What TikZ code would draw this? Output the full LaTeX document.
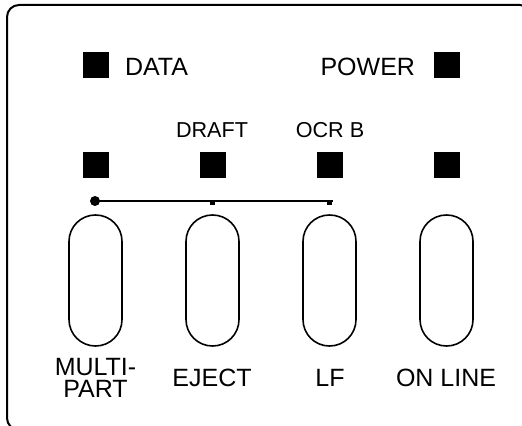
\documentclass[tikz,border=0pt]{standalone}
\usepackage{fontspec}
\setmainfont{Liberation Sans}
\begin{document}
\begin{tikzpicture}[x=0.5pt, y=-0.5pt, line width=1pt,
	led/.style={fill=black, minimum size=13pt, inner sep=0pt},
	key/.style={draw, line width=0.8pt, minimum width=26.5pt, minimum height=65.5pt, rounded corners=13.2pt, inner sep=0pt},
	lbl/.style={font=\fontsize{12.5}{11}\selectfont, inner sep=0pt, align=center},
	small/.style={font=\fontsize{10.8}{12}\selectfont, inner sep=0pt},
	tick/.style={fill=black, minimum size=2.5pt, inner sep=0pt}]
	\useasboundingbox (0,0) rectangle (522,426);
	\clip (0,0) rectangle (522,426);
	% panel
	\draw[rounded corners=6pt] (7,5) rectangle (532,430);

	\node[led] (ledData) at (96,65) {};
	\node[lbl, anchor=west] (txtData) at (124,67) {DATA};
	\node[led] (ledPower) at (447,65) {};
	\node[lbl, anchor=east] (txtPower) at (416,67) {POWER};

	\node[small] (txtDraft) at (212,130) {DRAFT};
	\node[small] (txtOcr) at (330,130) {OCR B};

	\foreach \n/\x in {1/96,2/213,3/330,4/447}
		\node[led] (led\n) at (\x,165) {};

	% keys
	\foreach \n/\x in {1/95.5,2/212.5,3/329.5,4/446.5}
		\node[key] (key\n) at (\x,280.5) {};

	\node[lbl] (txtMulti) at (95.5,378) {MULTI-\\PART};
	\node[lbl] (txtEject) at (212,378) {EJECT};
	\node[lbl] (txtLf) at (330,378) {LF};
	\node[lbl] (txtOnline) at (446,378) {ON LINE};

	% link
	\node[circle, fill=black, minimum size=5pt, inner sep=0pt] (dot) at (95,201) {};
	\node[tick] (tick2) at (212.5,202.5) {};
	\node[tick] (tick3) at (329.5,202.5) {};
	\draw (dot.center) -- (dot.center -| tick3.east);
\end{tikzpicture}
\end{document}
